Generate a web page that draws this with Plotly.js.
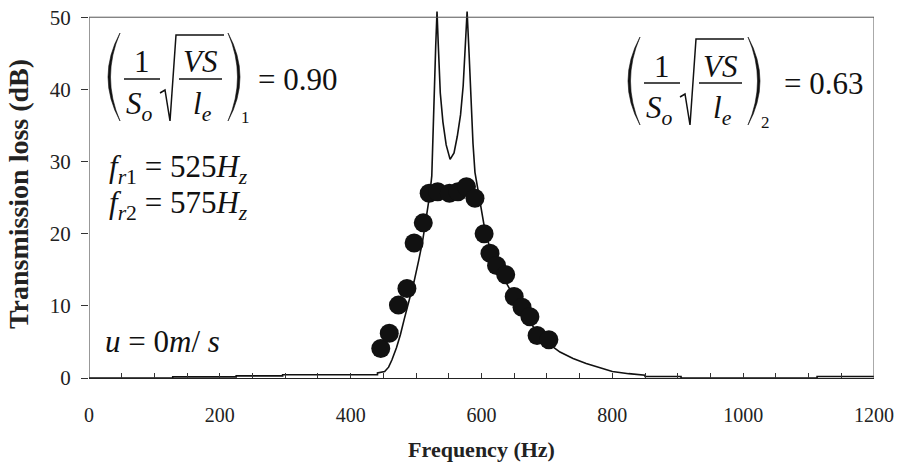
<!DOCTYPE html>
<html>
<head>
<meta charset="utf-8">
<script src="https://cdn.plot.ly/plotly-3.0.1.min.js"></script>
<style>html,body{margin:0;padding:0;background:#fff;}#chart{width:900px;height:467px;}</style>
</head>
<body>
<div id="chart"></div>
<script>
// Theoretical transmission loss curve (Hz, dB)
const freqLine = [0,128,128,225,225,296,296,441,441,452,458,463,470,476,482,490,497,504,510,516,521,524,526,528,530,532,534,537,541,546,552,558,563,568,572,575,578,581,584,587,590,595,600,605,615,630,645,660,675,690,705,720,740,760,780,800,825,850,850,905,905,1113,1113,1200];
const tlLine   = [0,0,0.15,0.15,0.3,0.3,0.45,0.45,0.7,0.9,1.5,2.5,4.2,6.0,8.2,10.8,13.4,16.3,19.0,22.5,25.5,28,33,40,46,50.8,46,39.5,35.5,32.3,30.3,31.2,33.5,36.5,40.5,45.5,50.8,45,38,32.5,28.5,25.8,23.5,20.6,17.3,14.5,12.0,9.8,7.6,5.8,4.6,3.6,2.7,2.0,1.4,0.9,0.6,0.4,0.2,0.2,0,0,0.2,0.2];
// Measured transmission loss (Hz, dB)
const freqMeas = [446,459,473,486,497,511,520,533,551,564,577,590,604,613,623,637,650,662,674,685,703];
const tlMeas   = [4.1,6.2,10.1,12.4,18.7,21.5,25.6,25.8,25.6,25.8,26.5,24.9,20.0,17.3,15.6,14.3,11.3,9.8,8.5,5.9,5.3];
const xTickVals = [0,200,400,600,800,1000,1200];
const yTickVals = [0,10,20,30,40,50];
const xRange = [0, 1200];
const yFrameTop = 50;
const yRange = [0, 51];
const xTitle = 'Frequency (Hz)';
const yTitle = 'Transmission loss (dB)';

const FONT = 'Liberation Serif';
// pixel -> paper helpers for decorations (plot area: x 89..874, y 10..378)
const L = 89, T = 10, PW = 785, PH = 368;
const xp = px => (px - L) / PW;
const yp = py => (T + PH - py) / PH;
const P = (px, py) => xp(px) + ',' + yp(py);

const annotations = [];
const shapes = [];
function txt(text, px, py, size, xanchor) {
  annotations.push({text: text, x: xp(px), y: yp(py), xref: 'paper', yref: 'paper',
    xanchor: xanchor || 'center', yanchor: 'middle', showarrow: false,
    font: {family: FONT, size: size, color: '#111'}});
}
function hline(x0, x1, py) {
  shapes.push({type: 'line', xref: 'paper', yref: 'paper', x0: xp(x0), x1: xp(x1), y0: yp(py), y1: yp(py),
    line: {color: '#111', width: 1.5}});
}
function path(d, filled) {
  shapes.push({type: 'path', xref: 'paper', yref: 'paper', path: d,
    fillcolor: filled ? '#111' : 'rgba(0,0,0,0)', line: {color: '#111', width: filled ? 0.6 : 1.5}});
}
function formula(ox, oy, vdx, sub, value) {
  const lx = 120 + ox, rx = 228 + ox, t = 33 + oy, b = 121 + oy, m = 77 + oy;
  path(`M ${P(lx,t)} Q ${P(lx-24,m)} ${P(lx,b)} Q ${P(lx-19,m)} ${P(lx,t)} Z`, true);
  path(`M ${P(rx,t)} Q ${P(rx+24,m)} ${P(rx,b)} Q ${P(rx+19,m)} ${P(rx,t)} Z`, true);
  txt('1', 142 + ox, 62 + oy, 31);
  hline(124 + ox, 160 + ox, 79 + oy);
  txt('<i>S</i><sub><i>o</i></sub>', 139 + ox, 106 + oy, 31);
  path(`M ${P(160+ox,93+oy)} L ${P(165+ox,90+oy)} L ${P(170+ox,121+oy)} L ${P(176+ox,35+oy)} L ${P(224+ox,35+oy)}`, false);
  txt('<i>VS</i>', 200 + ox, 62 + oy, 31);
  hline(179 + ox, 222 + ox, 79 + oy);
  txt('<i>l</i><sub><i>e</i></sub>', 202 + ox, 106 + oy, 31);
  txt(sub, 245 + ox, 118 + oy, 17);
  txt('= ' + value, 256 + vdx, 79 + oy, 31, 'left');
}
formula(0, 0, 0, '1', '0.90');
formula(520, 4, 526, '2', '0.63');
txt('<i>f</i><sub><i>r</i>1</sub> = 525<i>H</i><sub><i>z</i></sub>', 107, 169, 31, 'left');
txt('<i>f</i><sub><i>r</i>2</sub> = 575<i>H</i><sub><i>z</i></sub>', 107, 205, 31, 'left');
txt('<i>u</i> = 0<i>m</i>/ <i>s</i>', 103, 341, 31, 'left');

// frame: left, top and right edges up to the 50 dB level
const frameLine = {color: '#333', width: 1};
shapes.push({type: 'line', xref: 'x', yref: 'y', x0: xRange[0], x1: xRange[0], y0: yRange[0], y1: yFrameTop, line: frameLine});
shapes.push({type: 'line', xref: 'x', yref: 'y', x0: xRange[0], x1: xRange[1], y0: yFrameTop, y1: yFrameTop, line: {color: '#555', width: 1}});
shapes.push({type: 'line', xref: 'x', yref: 'y', x0: xRange[1], x1: xRange[1], y0: yRange[0], y1: yFrameTop, line: {color: '#555', width: 1}});

const traces = [
  {x: freqLine, y: tlLine, type: 'scatter', mode: 'lines',
   line: {color: '#111', width: 1.6}, hoverinfo: 'skip', showlegend: false},
  {x: freqMeas, y: tlMeas, type: 'scatter', mode: 'markers',
   marker: {color: '#111', size: 19, line: {width: 0}}, showlegend: false}
];

const layout = {
  width: 900, height: 467,
  margin: {l: L, r: 900 - L - PW, t: T, b: 467 - T - PH},
  paper_bgcolor: '#fff', plot_bgcolor: '#fff',
  showlegend: false,
  font: {family: FONT, color: '#222'},
  xaxis: {
    range: xRange, tickvals: xTickVals, ticktext: xTickVals.map(String),
    ticks: 'inside', ticklen: 5, tickcolor: '#333', showgrid: false, zeroline: false,
    showline: true, linecolor: '#222', linewidth: 1, mirror: false,
    minor: {dtick: 50, ticks: 'inside', ticklen: 5, tickcolor: '#333', showgrid: false},
    tickfont: {family: FONT, size: 20, color: '#222'}, ticklabelstandoff: 19,
    title: {text: '<b>' + xTitle + '</b>', font: {family: FONT, size: 22, color: '#222'}, standoff: 16}
  },
  yaxis: {
    range: yRange, tickvals: yTickVals, ticktext: yTickVals.map(String),
    ticks: 'outside', ticklen: 7, tickcolor: '#333', showgrid: false, zeroline: false,
    showline: false,
    tickfont: {family: FONT, size: 21, color: '#222'}, ticklabelstandoff: 6,
    title: {text: '<b>' + yTitle + '</b>', font: {family: FONT, size: 28, color: '#222'}, standoff: 12}
  },
  annotations: annotations,
  shapes: shapes
};
Plotly.newPlot('chart', traces, layout, {displayModeBar: false, staticPlot: true});
</script>
</body>
</html>
